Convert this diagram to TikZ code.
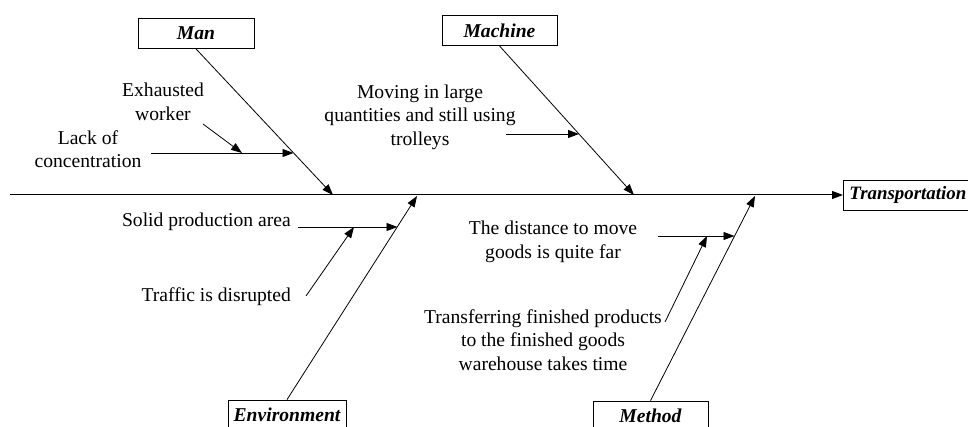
\documentclass[tikz,border=0pt]{standalone}
\usepackage{fontspec}
\setmainfont{Liberation Serif}
\usetikzlibrary{arrows.meta}
\begin{document}
\begin{tikzpicture}[x=1pt,y=-1pt,
  every node/.style={font=\fontsize{19.6}{23.6}\selectfont},
  catbox/.style={draw, line width=0.8pt, minimum height=30pt, inner sep=0pt, font=\fontsize{19.6}{23.6}\selectfont\bfseries\itshape},
  causetext/.style={align=center, inner sep=0pt},
  bone/.style={line width=0.8pt, -{Triangle[length=11pt,width=8pt]}},
  spine/.style={line width=1pt, -{Triangle[length=11pt,width=8pt]}}
]
\useasboundingbox (0,0) rectangle (968,427);
\clip (0,0) rectangle (968,427);

% category boxes
\node[catbox, minimum width=116pt] (man) at (196,33.5) {Man};
\node[catbox, minimum width=115pt] (machine) at (499.5,30.5) {Machine};
\node[catbox, minimum width=118pt] (env) at (287,415) {Environment};
\node[catbox, minimum width=115pt] (method) at (650.5,416) {Method};
\node[catbox, anchor=west, inner xsep=6pt, font=\fontsize{18.9}{23}\selectfont\bfseries\itshape] (effect) at (843,195) {Transportation};

% spine
\coordinate (s0) at (10,195);
\draw[spine] (s0) -- (effect.west);

% bone end points on spine
\coordinate (manend) at (333,195);
\coordinate (machend) at (634,195);
\coordinate (envend) at (417,196);
\coordinate (methend) at (755,196);

\draw[bone] (man.south) -- (manend);
\draw[bone] (machine.south) -- (machend);
\draw[bone] (env.north) -- (envend);
\draw[bone] (method.north) -- (methend);

% Man causes
\node[causetext] (exh) at (163,102) {Exhausted\\worker};
\node[causetext] (lack) at (88,149) {Lack of\\concentration};
\coordinate (lackstart) at (151,153);
\coordinate (lackend) at (293.5,153);
\coordinate (exhstart) at (203,124);
\coordinate (exhend) at (242,153);
\draw[bone] (lackstart) -- (lackend);
\draw[bone] (exhstart) -- (exhend);

% Machine causes
\node[causetext] (moving) at (420,117) {Moving in large\\quantities and still using\\trolleys};
\coordinate (movstart) at (506,134);
\coordinate (movend) at (579,134);
\draw[bone] (movstart) -- (movend);

% Environment causes
\node[causetext, anchor=east] (solid) at (291,222) {Solid production area};
\node[causetext, anchor=east] (traffic) at (291,297) {Traffic is disrupted};
\coordinate (solstart) at (298,227);
\coordinate (solend) at (397.5,227);
\coordinate (trafstart) at (306,296);
\coordinate (trafend) at (354,227);
\draw[bone] (solstart) -- (solend);
\draw[bone] (trafstart) -- (trafend);

% Method causes
\node[causetext] (dist) at (553,242) {The distance to move\\goods is quite far};
\node[causetext] (transf) at (543,340) {Transferring finished products\\to the finished goods\\warehouse takes time};
\coordinate (diststart) at (658,236);
\coordinate (distend) at (734.5,236);
\coordinate (trstart) at (665,322);
\coordinate (trend) at (707,236);
\draw[bone] (diststart) -- (distend);
\draw[bone] (trstart) -- (trend);
\end{tikzpicture}
\end{document}
